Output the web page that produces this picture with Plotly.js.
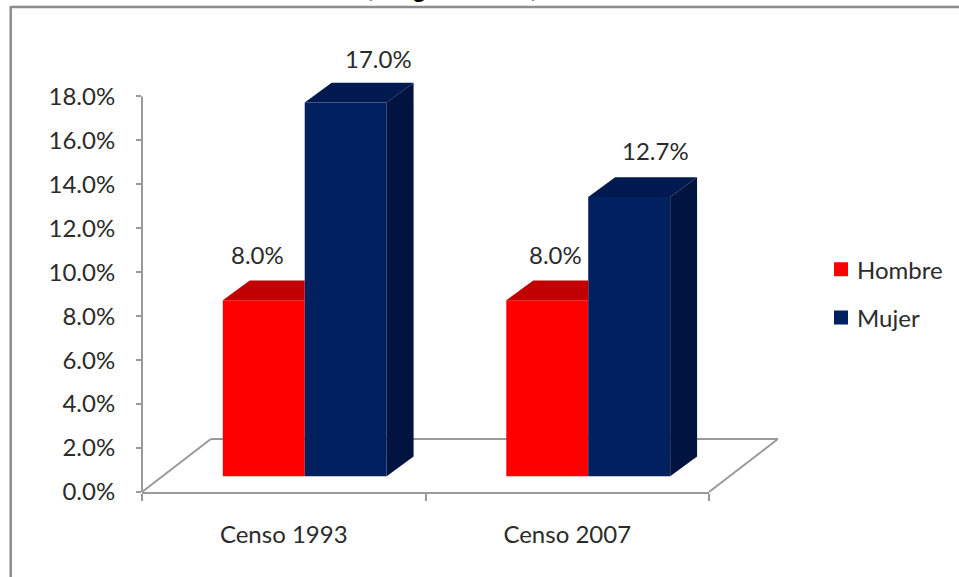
<!DOCTYPE html>
<html>
<head>
<meta charset="utf-8">
<script src="https://cdn.plot.ly/plotly-3.0.1.min.js"></script>
<style>html,body{margin:0;padding:0;background:#fff;overflow:hidden}#chart{width:959px;height:577px}</style>
</head>
<body>
<div id="chart"></div>
<script>
var categories = ['Censo 1993', 'Censo 2007'];
var hombre = [8.0, 8.0];
var mujer = [17.0, 12.7];
var seriesNames = ['Hombre', 'Mujer'];
var yTicks = [0, 2, 4, 6, 8, 10, 12, 14, 16, 18];

// chart frame in pixels; the y range runs past 18 so that the 3D tops are not clipped
var yMax = 19.2, yAxisTop = 18;
var L = 142, R = 710, B = 492, W = 959, H = 577, T = B - yMax * 22;
var px = function (p) { return (p - L) / (R - L); };
var py = function (p) { return (B - p) / (B - T); };

// pseudo-3D geometry, in axis units
var base = 0.72, barW = 0.289, shift = 0.074, dx = 0.095, dy = 0.9;
var floorDx = 69 / (R - L), floorDy = 53 / (B - T);
var catX = categories.map(function (c, i) { return i + 0.5; });
var xH = catX.map(function (c) { return c + shift - barW / 2; });
var xM = catX.map(function (c) { return c + shift + barW / 2; });
var red = '#ff0000', redTop = '#c00000', navy = '#002060', navyTop = '#001a50', navySide = '#00143f';
var axisCol = '#9a9a9a', frameCol = '#8c8c8c', textCol = '#2b2b2b';
var font = 'Lato, Carlito, sans-serif', fs = 24;

var traces = [
  { type: 'bar', name: seriesNames[0], x: xH, y: hombre, base: base, width: barW,
    marker: { color: red, line: { width: 0 } }, legendgroup: 'h' },
  { type: 'bar', name: seriesNames[1], x: xM, y: mujer, base: base, width: barW,
    marker: { color: navy, line: { width: 0 } }, legendgroup: 'm' }
];
function face(xs, ys, color) {
  traces.push({ type: 'scatter', mode: 'lines', x: xs, y: ys, fill: 'toself', fillcolor: color,
    line: { width: 0, color: color }, showlegend: false, hoverinfo: 'skip' });
}
categories.forEach(function (c, i) {
  var hL = xH[i] - barW / 2, hR = xH[i] + barW / 2, hT = hombre[i] + base;
  face([hL, hR, hR, hL + dx, hL], [hT, hT, hT + dy, hT + dy, hT], redTop);
  var mL = xM[i] - barW / 2, mR = xM[i] + barW / 2, mT = mujer[i] + base;
  face([mL, mR, mR + dx, mL + dx, mL], [mT, mT, mT + dy, mT + dy, mT], navyTop);
  face([mR, mR + dx, mR + dx, mR, mR], [mT, mT + dy, base + dy, base, mT], navySide);
});

// label offsets from the top-front centre of each bar, in pixels
var hShift = [[-6, 46], [8, 46]], mShift = [[33, 44], [26, 47]];
var annotations = [];
categories.forEach(function (c, i) {
  [[xH[i], hombre[i], hShift[i]], [xM[i], mujer[i], mShift[i]]].forEach(function (a) {
    annotations.push({ x: a[0], y: a[1] + base, text: a[1].toFixed(1) + '%', showarrow: false,
      xanchor: 'center', yanchor: 'middle', xshift: a[2][0], yshift: a[2][1],
      font: { family: font, size: fs, color: textCol } });
  });
});
// descenders of the cut-off title, all that is visible at the top edge
[[',', 372], ['g', 420], [',', 534]].forEach(function (t) {
  annotations.push({ xref: 'paper', yref: 'paper', x: px(t[1]), y: py(4), text: '<b>' + t[0] + '</b>', showarrow: false,
    xanchor: 'center', yanchor: 'bottom', font: { family: 'Liberation Sans', size: 24, color: '#000' } });
});

function seg(x0, y0, x1, y1) {
  return { type: 'line', xref: 'x domain', yref: 'y domain', x0: x0, y0: y0, x1: x1, y1: y1, layer: 'below',
    line: { color: axisCol, width: 2 } };
}
var shapes = [
  seg(0, 0, 0, yAxisTop / yMax),
  seg(0, 0, floorDx, floorDy),
  seg(floorDx, floorDy, 1 + floorDx, floorDy),
  seg(1 + floorDx, floorDy, 1, 0),
  { type: 'line', xref: 'paper', yref: 'paper', x0: px(10.5), y0: py(6.5), x1: px(W + 2), y1: py(6.5), line: { color: frameCol, width: 2.5 } },
  { type: 'line', xref: 'paper', yref: 'paper', x0: px(10.5), y0: py(5.5), x1: px(10.5), y1: py(H + 2), line: { color: frameCol, width: 2.5 } }
];

var layout = {
  width: W, height: H, autosize: false,
  margin: { l: L, r: W - R, t: T, b: H - B, pad: 0 },
  paper_bgcolor: '#fff', plot_bgcolor: 'rgba(0,0,0,0)',
  barmode: 'overlay', showlegend: true,
  font: { family: font, size: fs, color: textCol },
  xaxis: { range: [0, 2], tickmode: 'array', tickvals: catX, ticktext: categories, ticks: '', showgrid: false, zeroline: false,
    showline: true, linecolor: axisCol, linewidth: 2, ticklabelstandoff: 20,
    minor: { tickmode: 'array', tickvals: [0, 1, 2], ticks: 'outside', ticklen: 7, tickwidth: 2, tickcolor: axisCol, showgrid: false },
    tickfont: { family: font, size: fs, color: textCol } },
  yaxis: { range: [0, yMax], tickmode: 'array', tickvals: yTicks, ticktext: yTicks.map(function (v) { return v.toFixed(1) + '%'; }),
    ticks: 'outside', ticklen: 5, tickwidth: 2, tickcolor: axisCol, showgrid: false, zeroline: false,
    showline: false, ticklabelstandoff: 16,
    tickfont: { family: font, size: fs, color: textCol } },
  legend: { x: px(817), y: py(247), xanchor: 'left', yanchor: 'top', bgcolor: 'rgba(0,0,0,0)', tracegroupgap: 14,
    font: { family: font, size: fs, color: textCol } },
  shapes: shapes, annotations: annotations
};
Plotly.newPlot('chart', traces, layout, { staticPlot: true, displayModeBar: false }).then(function (gd) {
  gd.querySelectorAll('.legend .legendsymbols').forEach(function (n) {
    n.setAttribute('transform', 'translate(4,0)');
  });
  gd.querySelectorAll('.legend .legendsymbols path').forEach(function (n) {
    n.setAttribute('d', 'M7,7H-7V-7H7Z');
  });
});
</script>
</body>
</html>
